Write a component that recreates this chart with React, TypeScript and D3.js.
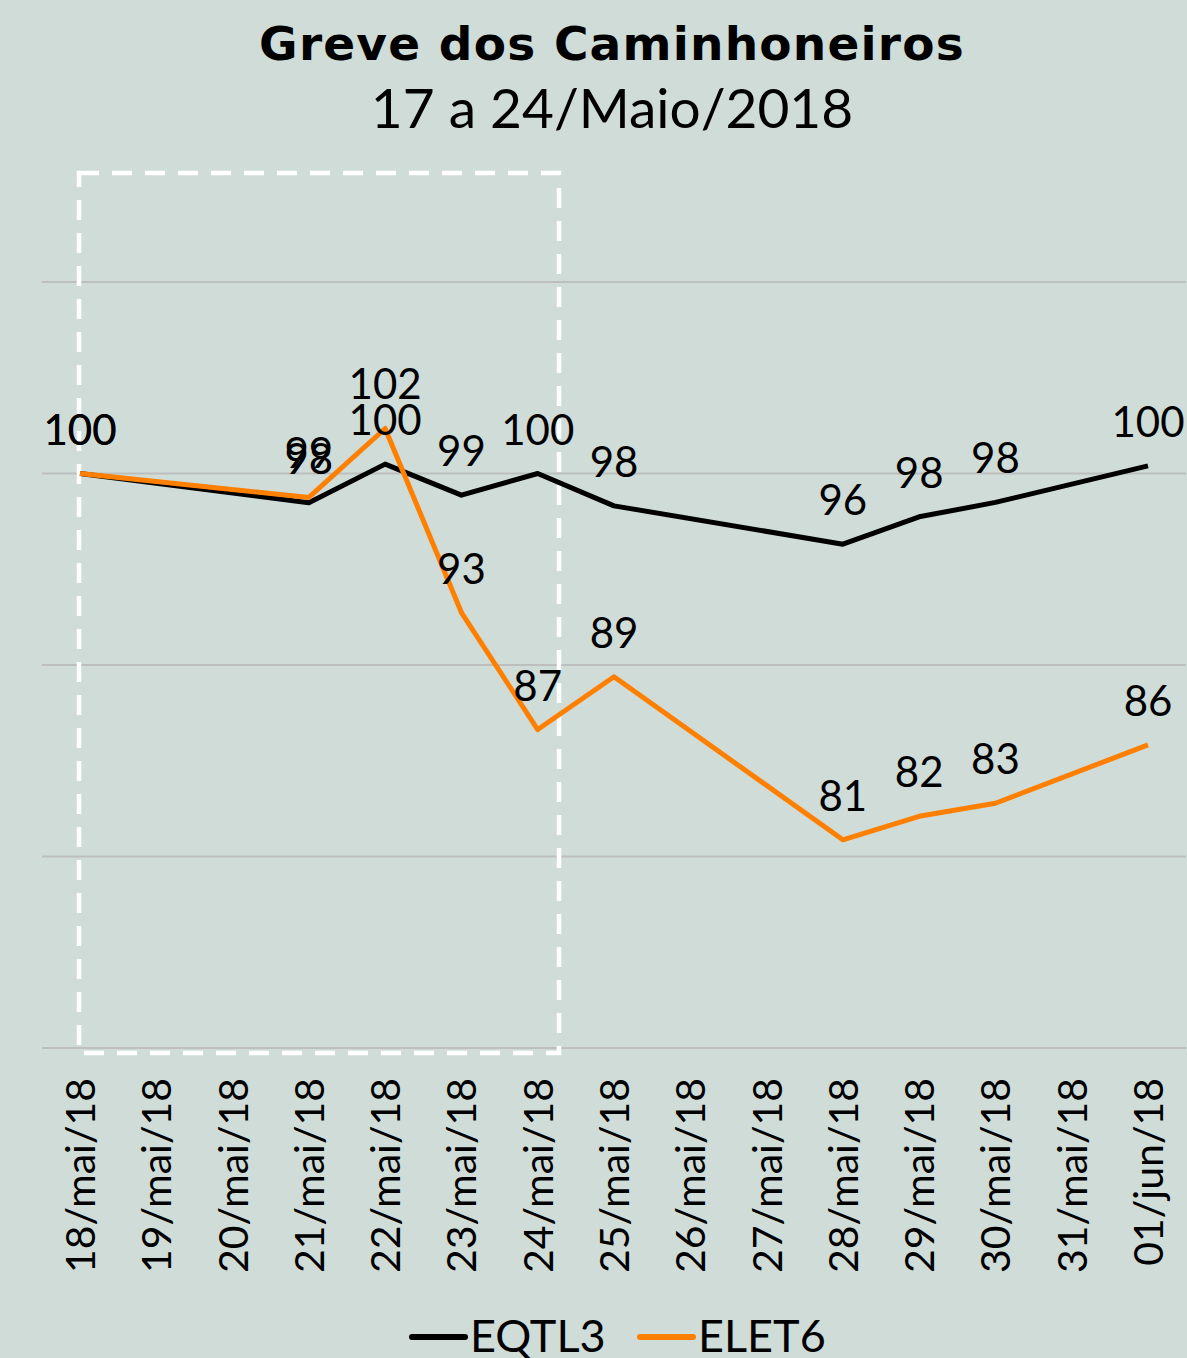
import React from "react";
import * as d3 from "d3";

const dates = ["18/mai/18","19/mai/18","20/mai/18","21/mai/18","22/mai/18","23/mai/18","24/mai/18","25/mai/18","26/mai/18","27/mai/18","28/mai/18","29/mai/18","30/mai/18","31/mai/18","01/jun/18"];
const eqtl3: (number | null)[] = [100, null, null, 98.47, 100.49, 98.87, 100, 98.31, null, null, 96.31, 97.74, 98.49, null, 100.4];
const elet6: (number | null)[] = [100, null, null, 98.75, 102.35, 92.74, 86.63, 89.39, null, null, 80.87, 82.1, 82.78, null, 85.83];
const yTicks = [70, 80, 90, 100, 110];
const seriesNames = ["EQTL3", "ELET6"];
const seriesColors = ["#000000", "#ff7f00"];

const W = 1187, H = 1358;
const FONT = "Lato, 'Open Sans', sans-serif";

export default function App() {
  const x = d3.scalePoint<string>().domain(dates).range([80, 1148]);
  const y = d3.scaleLinear().domain([70, 110]).range([1048, 282]);
  const series = [eqtl3, elet6];
  const line = d3.line<{ d: string; v: number }>().x(p => x(p.d)!).y(p => y(p.v));
  const toPts = (s: (number | null)[]) =>
    dates.map((d, j) => ({ d, v: s[j] })).filter(p => p.v != null) as { d: string; v: number }[];

  return (
    <div style={{ position: "absolute", left: 0, top: 0 }}>
      <svg width={W} height={H} style={{ display: "block" }} fontFamily={FONT}>
        <rect width={W} height={H} fill="#cfdcd7" />
        <text x={612} y={60} textAnchor="middle" fontSize={47} fontWeight={700} letterSpacing={1.2}
          fontFamily="'DejaVu Sans', sans-serif" fill="#000">Greve dos Caminhoneiros</text>
        <text x={612} y={128} textAnchor="middle" fontSize={55} fontWeight={400} fill="#000">17 a 24/Maio/2018</text>
        {yTicks.map(t => (
          <line key={t} x1={42} x2={1186} y1={y(t)} y2={y(t)} stroke="#bcbfbe" strokeWidth={2} />
        ))}
        <rect x={79} y={173} width={480} height={880} fill="none" stroke="#ffffff" strokeWidth={4.5} strokeDasharray="20 13" />
        {series.map((s, i) => (
          <path key={i} d={line(toPts(s))!} fill="none" stroke={seriesColors[i]} strokeWidth={5} strokeLinejoin="round" />
        ))}
        {[1, 0].map(i => (
          <g key={"l" + i}>
            {toPts(series[i]).map(p => (
              <text key={p.d} x={x(p.d)!} y={y(p.v) - 29} textAnchor="middle" fontSize={42} fill="#000">{Math.round(p.v)}</text>
            ))}
          </g>
        ))}
        {dates.map(d => (
          <text key={d} transform={`translate(${x(d)! + 15},1078) rotate(-90)`} textAnchor="end" fontSize={41} fill="#000">{d}</text>
        ))}
        {seriesNames.map((n, i) => {
          const lx = [412, 640][i];
          return (
            <g key={n}>
              <line x1={lx} x2={lx + 53} y1={1337} y2={1337} stroke={seriesColors[i]} strokeWidth={6} strokeLinecap="round" />
              <text x={lx + 58} y={1352} fontSize={45} fill="#000">{n}</text>
            </g>
          );
        })}
      </svg>
    </div>
  );
}
